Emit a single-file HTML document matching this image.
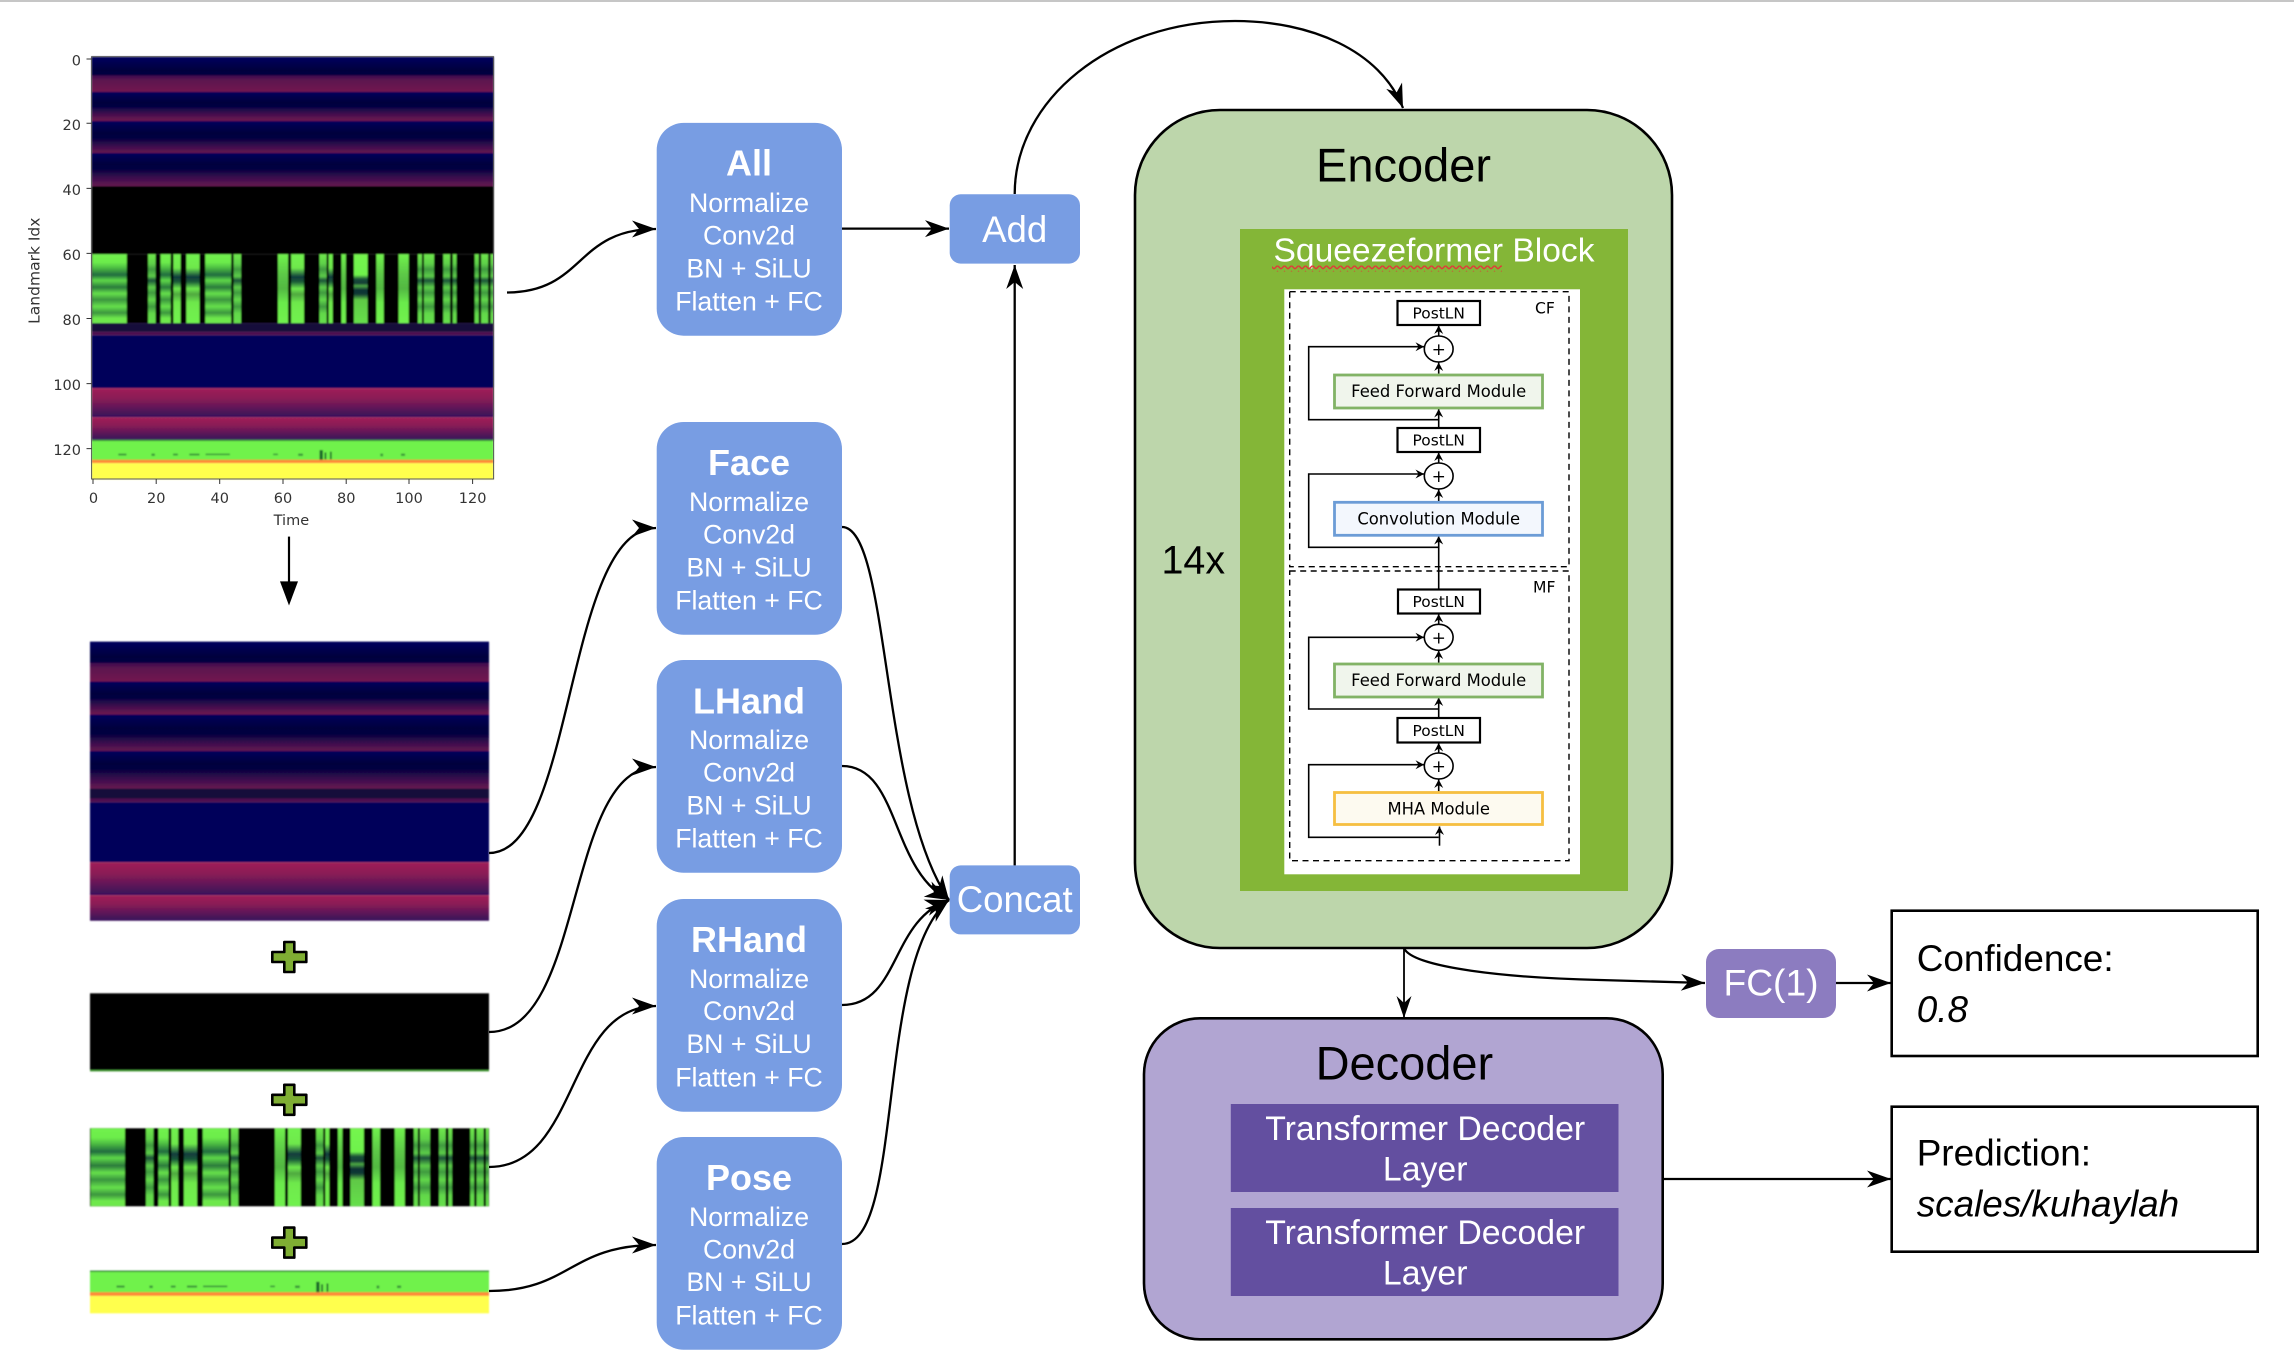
<!DOCTYPE html>
<html><head><meta charset="utf-8"><title>Architecture diagram</title>
<style>
html,body{margin:0;padding:0;background:#fff}
svg{display:block}
.s{font-family:"Liberation Sans",sans-serif}
.d{font-family:"DejaVu Sans",sans-serif}
</style></head>
<body>
<svg width="2294" height="1358" viewBox="0 0 2294 1358" xmlns="http://www.w3.org/2000/svg">
<defs>
<marker id="a" markerUnits="userSpaceOnUse" viewBox="-26 -10 27 20" markerWidth="27" markerHeight="20" refX="0" refY="0" orient="auto"><path d="M0 0L-24 -8.5L-17 0L-24 8.5Z" fill="#000"/></marker>
<marker id="n" markerUnits="userSpaceOnUse" viewBox="-26 -10 27 20" markerWidth="27" markerHeight="20" refX="0" refY="0" orient="auto"><path d="M0 0L-22 -7.5L-15 0L-22 7.5Z" fill="#000"/></marker>
<marker id="i" markerUnits="userSpaceOnUse" viewBox="-10 -6 11 12" markerWidth="11" markerHeight="12" refX="0" refY="0" orient="auto"><path d="M0 0L-8.5 -4.5L-5.5 0L-8.5 4.5Z" fill="#000"/></marker>
<linearGradient id="m1" x1="0" y1="0" x2="0" y2="1"><stop offset="0" stop-color="#3d0e50"/><stop offset=".3" stop-color="#5c1350"/><stop offset="1" stop-color="#721650"/></linearGradient>
<linearGradient id="m2" x1="0" y1="0" x2="0" y2="1"><stop offset="0" stop-color="#0c0446"/><stop offset=".5" stop-color="#430f4e"/><stop offset="1" stop-color="#701550"/></linearGradient>
<linearGradient id="m4" x1="0" y1="0" x2="0" y2="1"><stop offset="0" stop-color="#06023f"/><stop offset=".5" stop-color="#3a0e4e"/><stop offset="1" stop-color="#661550"/></linearGradient>
<linearGradient id="m3" x1="0" y1="0" x2="0" y2="1"><stop offset="0" stop-color="#a02058"/><stop offset=".35" stop-color="#8a1c56"/><stop offset="1" stop-color="#35105a"/></linearGradient>
<linearGradient id="nv" x1="0" y1="0" x2="0" y2="1"><stop offset="0" stop-color="#05005c"/><stop offset=".65" stop-color="#01003e"/><stop offset="1" stop-color="#03003f"/></linearGradient>
<linearGradient id="g1" x1="0" y1="0" x2="0" y2="1"><stop offset="0" stop-color="#70f24d"/><stop offset=".12" stop-color="#6cec4b"/><stop offset=".2" stop-color="#4cbb42"/><stop offset=".3" stop-color="#1f6b3e"/><stop offset=".38" stop-color="#5ed848"/><stop offset=".48" stop-color="#2a7a3c"/><stop offset=".57" stop-color="#66e04b"/><stop offset=".66" stop-color="#3a953e"/><stop offset=".76" stop-color="#66e04b"/><stop offset=".85" stop-color="#3a953e"/><stop offset=".93" stop-color="#6ee84c"/></linearGradient>
<linearGradient id="g2" x1="0" y1="0" x2="0" y2="1"><stop offset="0" stop-color="#70f24d"/><stop offset=".2" stop-color="#6ee84c"/><stop offset=".33" stop-color="#0f3a3c"/><stop offset=".4" stop-color="#1a5a38"/><stop offset=".5" stop-color="#6ee84c"/><stop offset=".58" stop-color="#4fa840"/><stop offset=".7" stop-color="#6ee84c"/><stop offset="1" stop-color="#70f24d"/></linearGradient>
<linearGradient id="g3" x1="0" y1="0" x2="0" y2="1"><stop offset="0" stop-color="#6ee84c"/><stop offset=".14" stop-color="#5ed048"/><stop offset=".22" stop-color="#3f9a40"/><stop offset=".32" stop-color="#5ccc48"/><stop offset=".38" stop-color="#1a5038"/><stop offset=".48" stop-color="#5ccc48"/><stop offset=".56" stop-color="#3f9a40"/><stop offset=".66" stop-color="#62d84a"/><stop offset=".76" stop-color="#3f9a40"/><stop offset=".86" stop-color="#62d84a"/><stop offset="1" stop-color="#66e04b"/></linearGradient>
<linearGradient id="g4" x1="0" y1="0" x2="0" y2="1"><stop offset="0" stop-color="#74f54e"/><stop offset=".3" stop-color="#6ff24c"/><stop offset=".36" stop-color="#1a5038"/><stop offset=".42" stop-color="#143c36"/><stop offset=".46" stop-color="#4caa42"/><stop offset=".52" stop-color="#0d3034"/><stop offset=".58" stop-color="#113a34"/><stop offset=".66" stop-color="#5fc845"/><stop offset="1" stop-color="#66e04b"/></linearGradient>
<linearGradient id="g5" x1="0" y1="0" x2="0" y2="1"><stop offset="0" stop-color="#70f24d"/><stop offset=".3" stop-color="#5cc846"/><stop offset=".5" stop-color="#52b842"/><stop offset=".7" stop-color="#6aea4b"/><stop offset="1" stop-color="#70f24d"/></linearGradient>
<filter id="bl" x="-2%" y="-2%" width="104%" height="104%"><feGaussianBlur stdDeviation="0.9"/></filter>
<pattern id="sq" width="7" height="6" patternUnits="userSpaceOnUse"><path d="M0 5L3.5 1.5L7 5" fill="none" stroke="#e03a3a" stroke-width="1.5"/></pattern>

<g id="b1">
<rect x="271" y="96" width="1189" height="338" fill="#05005c"/>
<rect x="271" y="100" width="1189" height="45" fill="url(#nv)"/>
<rect x="271" y="145" width="1189" height="43" fill="url(#m1)"/>
<rect x="271" y="188" width="1189" height="40" fill="url(#nv)"/>
<rect x="271" y="228" width="1189" height="36" fill="url(#m2)"/>
<rect x="271" y="264" width="1189" height="46" fill="url(#nv)"/>
<rect x="271" y="310" width="1189" height="38" fill="url(#m4)"/>
<rect x="271" y="348" width="1189" height="42" fill="url(#nv)"/>
<rect x="271" y="390" width="1189" height="44" fill="url(#m4)"/>
</g>
<g id="b2">
<rect x="271" y="792" width="1189" height="23" fill="#18083a"/>
<rect x="271" y="815" width="1189" height="9" fill="#4d1050"/>
<rect x="271" y="824" width="1189" height="138" fill="#01005a"/>
<rect x="271" y="962" width="1189" height="76" fill="url(#m3)"/>
<rect x="271" y="1038" width="1189" height="59" fill="url(#m3)"/>
</g>
<g id="b3">
<rect x="271" y="612" width="1189" height="180" fill="#000"/>
<rect x="273" y="612" width="102" height="180" fill="url(#g1)"/>
<rect x="438" y="612" width="22" height="180" fill="url(#g3)"/>
<rect x="475" y="612" width="30" height="180" fill="url(#g1)"/>
<rect x="513" y="612" width="21" height="180" fill="url(#g2)"/>
<rect x="551" y="612" width="39" height="180" fill="url(#g2)"/>
<rect x="607" y="612" width="77" height="180" fill="url(#g1)"/>
<rect x="691" y="612" width="22" height="180" fill="url(#g3)"/>
<rect x="822" y="612" width="30" height="180" fill="url(#g5)"/>
<rect x="861" y="612" width="38" height="180" fill="url(#g2)"/>
<rect x="945" y="612" width="21" height="180" fill="url(#g3)"/>
<rect x="972" y="612" width="12" height="180" fill="url(#g2)"/>
<rect x="1010" y="612" width="13" height="180" fill="url(#g5)"/>
<rect x="1047" y="612" width="40" height="180" fill="url(#g4)"/>
<rect x="1113" y="612" width="22" height="180" fill="url(#g5)"/>
<rect x="1179" y="612" width="30" height="180" fill="url(#g5)"/>
<rect x="1236" y="612" width="12" height="180" fill="url(#g3)"/>
<rect x="1254" y="612" width="30" height="180" fill="url(#g3)"/>
<rect x="1311" y="612" width="20" height="180" fill="url(#g3)"/>
<rect x="1339" y="612" width="11" height="180" fill="url(#g3)"/>
<rect x="1404" y="612" width="12" height="180" fill="url(#g3)"/>
<rect x="1423" y="612" width="21" height="180" fill="url(#g3)"/>
<rect x="1451" y="612" width="8" height="180" fill="url(#g3)"/>
</g>
<g id="b4">
<rect x="271" y="1097" width="1189" height="53" fill="#6ff24c"/>
<rect x="271" y="1097" width="1189" height="3" fill="#2f7f35"/>
<rect x="271" y="1149" width="1189" height="9" fill="#ff8a38"/>
<rect x="271" y="1158" width="1189" height="42" fill="#ffff4d"/>
<g fill="#3c9a3a"><rect x="350" y="1133" width="24" height="5"/><rect x="448" y="1133" width="10" height="6"/><rect x="512" y="1133" width="14" height="5"/><rect x="560" y="1133" width="30" height="5"/><rect x="608" y="1133" width="72" height="4"/><rect x="808" y="1133" width="14" height="4"/><rect x="882" y="1133" width="14" height="6"/><rect x="1125" y="1133" width="8" height="7"/><rect x="1186" y="1133" width="12" height="6"/></g>
<g fill="#1f6a2c"><rect x="945" y="1124" width="10" height="25"/><rect x="960" y="1130" width="5" height="18"/><rect x="976" y="1128" width="5" height="20"/></g>
</g>
</defs>

<rect width="2294" height="1358" fill="#fff"/>
<rect width="2294" height="2" fill="#c6c6c6"/>

<!-- Top heatmap -->
<g filter="url(#bl)">
<g transform="translate(0,20) scale(.3381,.3827)">
<use href="#b1"/>
<rect x="271" y="434" width="1189" height="178" fill="#000"/>
<use href="#b3"/><use href="#b2"/><use href="#b4"/>
</g>
</g>
<rect x="91.6" y="56.7" width="402" height="422.3" fill="none" stroke="#555" stroke-width="1"/>
<g stroke="#333" stroke-width="1">
<path d="M86.5 59H91.6M86.5 123.3H91.6M86.5 188.4H91.6M86.5 253.4H91.6M86.5 318.5H91.6M86.5 383.6H91.6M86.5 448.6H91.6"/>
<path d="M93 479V484M156.2 479V484M219.7 479V484M283 479V484M346.2 479V484M409 479V484M472.6 479V484"/>
</g>
<g class="d" font-size="14.5" fill="#333" text-anchor="end">
<text x="81" y="65.5">0</text><text x="81" y="130">20</text><text x="81" y="195">40</text><text x="81" y="260">60</text><text x="81" y="325">80</text><text x="81" y="390">100</text><text x="81" y="455">120</text>
</g>
<g class="d" font-size="14.5" fill="#333" text-anchor="middle">
<text x="93.5" y="503">0</text><text x="156.2" y="503">20</text><text x="219.7" y="503">40</text><text x="283" y="503">60</text><text x="346.2" y="503">80</text><text x="409" y="503">100</text><text x="472.6" y="503">120</text>
<text x="291.4" y="525">Time</text>
<text transform="translate(39.5,270.7) rotate(-90)" font-size="15.5">Landmark Idx</text>
</g>
<path d="M289 536.6V585" stroke="#000" stroke-width="2.2"/>
<path d="M280 581.4H298L289 605.5Z" fill="#000"/>

<!-- Split heatmaps -->
<g filter="url(#bl)">
<g transform="translate(-.95,599.9) scale(.3356,.4346)"><use href="#b1"/></g>
<g transform="translate(-.95,445.2) scale(.3356,.4335)"><use href="#b2"/></g>
<rect x="90" y="993.3" width="399" height="78" fill="#000"/>
<rect x="90" y="1070" width="399" height="1.4" fill="#4fa840" stroke-dasharray="12 4"/>
<g transform="translate(-.95,863.1) scale(.3356,.4333)"><use href="#b3"/></g>
<g transform="translate(-.95,815.8) scale(.3356,.4146)"><use href="#b4"/></g>
</g>
<g fill="#7fae33" stroke="#000" stroke-width="2.6" stroke-linejoin="round">
<path transform="translate(289.3,957)" d="M-5 -15H5V-5H17V5H5V15H-5V5H-17V-5H-5Z"/>
<path transform="translate(289.3,1099.8)" d="M-5 -15H5V-5H17V5H5V15H-5V5H-17V-5H-5Z"/>
<path transform="translate(289.3,1242.6)" d="M-5 -15H5V-5H17V5H5V15H-5V5H-17V-5H-5Z"/>
</g>

<!-- Left connectors -->
<g fill="none" stroke="#000" stroke-width="2.3">
<path d="M507 292.5C585 292 575 229 656 229" marker-end="url(#a)"/>
<path d="M489 853C575 853 565 528 656 528" marker-end="url(#a)"/>
<path d="M489 1032C585 1032 565 767 656 767" marker-end="url(#a)"/>
<path d="M489 1167C580 1167 565 1006 656 1006" marker-end="url(#a)"/>
<path d="M489 1291C570 1291 570 1245 656 1245" marker-end="url(#a)"/>
</g>

<!-- Blue boxes -->
<g fill="#789de3">
<rect x="656.7" y="122.9" width="185.3" height="212.8" rx="27" ry="27"/>
<rect x="656.7" y="422" width="185.3" height="212.8" rx="27" ry="27"/>
<rect x="656.7" y="660" width="185.3" height="212.8" rx="27" ry="27"/>
<rect x="656.7" y="899" width="185.3" height="212.8" rx="27" ry="27"/>
<rect x="656.7" y="1137" width="185.3" height="212.8" rx="27" ry="27"/>
<rect x="949.7" y="194.3" width="130.3" height="69.3" rx="11"/>
<rect x="949.7" y="865.4" width="130.3" height="69" rx="11"/>
</g>
<g class="s" fill="#fff" text-anchor="middle" font-size="26.7">
<text x="749" y="175.7" font-size="36" font-weight="bold">All</text>
<text x="749" y="212">Normalize</text><text x="749" y="244.5">Conv2d</text><text x="749" y="277.5">BN + SiLU</text><text x="749" y="310.7">Flatten + FC</text>
<text x="749" y="475" font-size="36" font-weight="bold">Face</text>
<text x="749" y="511">Normalize</text><text x="749" y="543.5">Conv2d</text><text x="749" y="576.5">BN + SiLU</text><text x="749" y="609.7">Flatten + FC</text>
<text x="749" y="713.3" font-size="36" font-weight="bold">LHand</text>
<text x="749" y="749">Normalize</text><text x="749" y="781.5">Conv2d</text><text x="749" y="814.5">BN + SiLU</text><text x="749" y="847.7">Flatten + FC</text>
<text x="749" y="952" font-size="36" font-weight="bold">RHand</text>
<text x="749" y="988">Normalize</text><text x="749" y="1020">Conv2d</text><text x="749" y="1053">BN + SiLU</text><text x="749" y="1086.7">Flatten + FC</text>
<text x="749" y="1190" font-size="36" font-weight="bold">Pose</text>
<text x="749" y="1226">Normalize</text><text x="749" y="1258.5">Conv2d</text><text x="749" y="1291">BN + SiLU</text><text x="749" y="1324.5">Flatten + FC</text>
<text x="1014.7" y="242" font-size="36.6">Add</text>
<text x="1014.7" y="911.8" font-size="36.6">Concat</text>
</g>

<!-- Middle connectors -->
<g fill="none" stroke="#000" stroke-width="2.3">
<path d="M842 228.6H949" marker-end="url(#a)"/>
<path d="M1014.7 865.4V265" marker-end="url(#a)"/>
<path d="M1014.7 194C1014.7 100 1110 21 1235 21C1310 21 1380 50 1403 108" marker-end="url(#a)"/>
<path d="M842 527C890 527 880 800 949 900" marker-end="url(#a)"/>
<path d="M842 766C900 766 890 870 949 900" marker-end="url(#a)"/>
<path d="M842 1005C900 1005 890 920 949 900" marker-end="url(#a)"/>
<path d="M842 1244C905 1244 875 960 949 900" marker-end="url(#a)"/>
</g>

<!-- Encoder -->
<rect x="1135" y="110" width="537" height="838" rx="85" ry="85" fill="#bdd6ab" stroke="#000" stroke-width="2.6"/>
<text class="s" x="1403.5" y="181.7" font-size="47" text-anchor="middle">Encoder</text>
<text class="s" x="1161.5" y="573.5" font-size="39.4">14x</text>
<rect x="1240" y="229" width="388" height="662" fill="#84b637"/>
<text class="s" x="1273.5" y="261.5" font-size="33.6" fill="#fff">Squeezeformer Block</text>
<rect x="1272" y="265.5" width="230" height="6" fill="url(#sq)"/>
<rect x="1284.3" y="289.3" width="295.7" height="585" fill="#fff"/>
<g fill="none" stroke="#000" stroke-width="1.4" stroke-dasharray="6 4.5">
<rect x="1289.7" y="291.7" width="279.3" height="275"/>
<rect x="1289.7" y="571" width="279.3" height="289.7"/>
</g>
<g class="d" font-size="15.6" fill="#000"><text x="1535" y="313.5">CF</text><text x="1533" y="592.5">MF</text></g>

<!-- inner connectors -->
<g fill="none" stroke="#000" stroke-width="1.6">
<path d="M1438.7 336V325.5" marker-end="url(#i)"/>
<path d="M1438.7 373.7V362.5" marker-end="url(#i)"/>
<path d="M1438.7 427.7V409" marker-end="url(#i)"/>
<path d="M1438.7 463V452.5" marker-end="url(#i)"/>
<path d="M1438.7 501V489.5" marker-end="url(#i)"/>
<path d="M1438.7 589V536" marker-end="url(#i)"/>
<path d="M1438.7 624.3V614" marker-end="url(#i)"/>
<path d="M1438.7 662.7V650.5" marker-end="url(#i)"/>
<path d="M1438.7 717.7V697.5" marker-end="url(#i)"/>
<path d="M1438.7 753V743" marker-end="url(#i)"/>
<path d="M1438.7 791.3V779.5" marker-end="url(#i)"/>
<path d="M1439.5 845.7V826.5" marker-end="url(#i)"/>
<path d="M1438.7 419.7H1308.7V346.7H1424" marker-end="url(#i)"/>
<path d="M1438.7 547.3H1308.7V474H1424" marker-end="url(#i)"/>
<path d="M1438.7 709H1308.7V637.3H1424" marker-end="url(#i)"/>
<path d="M1438.7 837.3H1308.7V764.7H1424" marker-end="url(#i)"/>
</g>
<g fill="#fff" stroke="#000" stroke-width="1.6">
<ellipse cx="1438.7" cy="349" rx="14.4" ry="13"/>
<ellipse cx="1438.7" cy="476" rx="14.4" ry="13"/>
<ellipse cx="1438.7" cy="637.3" rx="14.4" ry="13"/>
<ellipse cx="1438.7" cy="766" rx="14.4" ry="13"/>
</g>
<g class="d" font-size="17" text-anchor="middle" fill="#000">
<text x="1438.7" y="355">+</text><text x="1438.7" y="482">+</text><text x="1438.7" y="643.5">+</text><text x="1438.7" y="772">+</text>
</g>
<g fill="#fff" stroke="#000" stroke-width="2.2">
<rect x="1397.5" y="301" width="82.5" height="24"/>
<rect x="1397.5" y="428" width="82.5" height="24"/>
<rect x="1398" y="589.5" width="82" height="24"/>
<rect x="1397.5" y="718" width="82.5" height="24.5"/>
</g>
<g stroke-width="2.8">
<rect x="1334.5" y="375" width="208" height="33" fill="#f0f5ec" stroke="#82b366"/>
<rect x="1334.5" y="664" width="208" height="33" fill="#f0f5ec" stroke="#82b366"/>
<rect x="1334.5" y="502.3" width="208" height="33" fill="#f3f7fd" stroke="#6c9cd6"/>
<rect x="1334.5" y="792.5" width="208" height="32" fill="#fdfaf0" stroke="#f6bf41"/>
</g>
<g class="d" text-anchor="middle" fill="#000">
<g font-size="15.4">
<text x="1438.7" y="318.5">PostLN</text><text x="1438.7" y="445.5">PostLN</text><text x="1438.7" y="607">PostLN</text><text x="1438.7" y="736">PostLN</text>
</g>
<g font-size="16.4">
<text x="1438.7" y="397">Feed Forward Module</text>
<text x="1438.7" y="686">Feed Forward Module</text>
<text x="1438.7" y="524.5">Convolution Module</text>
<text x="1438.7" y="814.5">MHA Module</text>
</g>
</g>

<!-- Decoder -->
<rect x="1144" y="1018.3" width="518.7" height="321" rx="56" ry="56" fill="#b1a5d2" stroke="#000" stroke-width="2.6"/>
<text class="s" x="1404.4" y="1079.3" font-size="47" text-anchor="middle">Decoder</text>
<rect x="1230.8" y="1104" width="387.7" height="88" fill="#634fa0"/>
<rect x="1230.8" y="1208" width="387.7" height="88" fill="#634fa0"/>
<g class="s" font-size="33.8" fill="#fff" text-anchor="middle">
<text x="1425.2" y="1140">Transformer Decoder</text><text x="1425.2" y="1180.5">Layer</text>
<text x="1425.2" y="1244">Transformer Decoder</text><text x="1425.2" y="1284.5">Layer</text>
</g>

<!-- Right side -->
<rect x="1706" y="949" width="130" height="69" rx="13" fill="#8c7cc0"/>
<text class="s" x="1771" y="995.7" font-size="37.2" text-anchor="middle" fill="#fff">FC(1)</text>
<rect x="1891.7" y="910.7" width="366" height="145.3" fill="#fff" stroke="#000" stroke-width="2.6"/>
<rect x="1891.7" y="1106.7" width="366" height="145" fill="#fff" stroke="#000" stroke-width="2.6"/>
<g class="s" font-size="36.9" fill="#000">
<text x="1916.7" y="971">Confidence:</text>
<text x="1916.7" y="1022" font-style="italic">0.8</text>
<text x="1916.7" y="1165.5">Prediction:</text>
<text x="1916.7" y="1216.5" font-style="italic">scales/kuhaylah</text>
</g>
<g fill="none" stroke="#000" stroke-width="2.3">
<path d="M1404 948C1412 968 1510 978 1600 980L1705 983" marker-end="url(#a)"/>
<path d="M1836 983H1891" marker-end="url(#a)"/>
<path d="M1663 1179H1891" marker-end="url(#a)"/>
<path d="M1404 948V1018" stroke-width="1.8" marker-end="url(#n)"/>
</g>
</svg>
</body></html>
